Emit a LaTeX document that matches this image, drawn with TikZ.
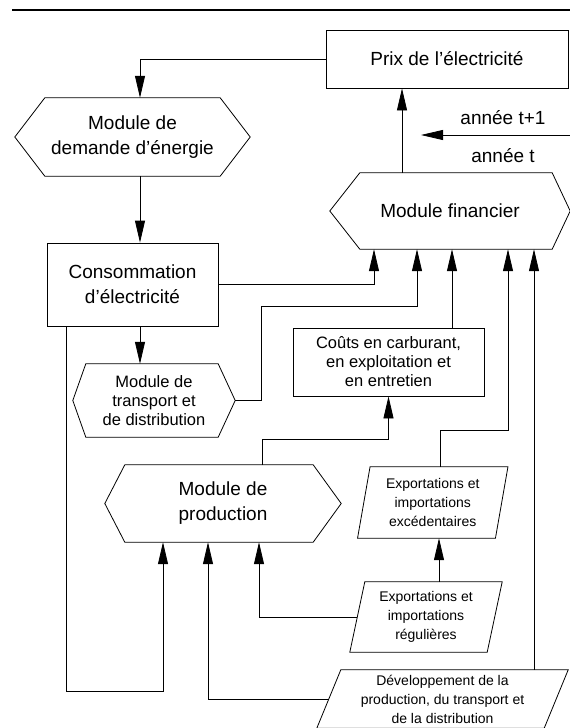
\documentclass[tikz,border=0pt]{standalone}
\usepackage{fontspec}
\setmainfont{Liberation Sans}
\usetikzlibrary{
    positioning,   % Relative positioning
    arrows.meta,   % Modern arrow tips
    calc           % Coordinate calculations
}

\newcommand{\bigtxt}{\fontsize{19}{25}\selectfont}
\newcommand{\midtxt}{\fontsize{16.5}{19}\selectfont}
\newcommand{\smalltxt}{\fontsize{14}{19}\selectfont}

% hexagon outline round a named node: #2 left inset, #3 right inset
\newcommand{\hexout}[3]{\draw[line width=0.8pt] (#1.west) -- ([xshift=#2]#1.north west) -- ([xshift=-#3]#1.north east) -- (#1.east) -- ([xshift=-#3]#1.south east) -- ([xshift=#2]#1.south west) -- cycle;}
% parallelogram outline round a named node: #2 half slant
\newcommand{\paraout}[2]{\draw[line width=0.8pt] ([xshift=#2]#1.north west) -- ([xshift=#2]#1.north east) -- ([xshift=-#2]#1.south east) -- ([xshift=-#2]#1.south west) -- cycle;}

\tikzset{
    box/.style={draw, line width=0.8pt, inner sep=0pt, align=center},
    shapebox/.style={inner sep=0pt, align=center},
    flow/.style={line width=0.8pt, -{Triangle[length=22pt,width=10pt]}}
}

\begin{document}
\begin{tikzpicture}[x=1pt,y=-1pt]
    \useasboundingbox (0,0) rectangle (570,728);
    \draw[line width=1.5pt] (12,10) -- (570,10);

    \node[box, minimum width=242, minimum height=58, font=\bigtxt] (prix) at (447,59) {Prix de l'électricité};
    \node[shapebox, minimum width=235, minimum height=78, font=\bigtxt] (demande) at (132.5,137) {Module de\\demande d'énergie};
    \node[box, minimum width=171, minimum height=83, font=\bigtxt] (conso) at (132.5,284.5) {Consommation\\d'électricité};
    \node[shapebox, minimum width=240, minimum height=76, font=\bigtxt] (financier) at (450,211) {Module financier};
    \node[shapebox, minimum width=162, minimum height=73, font=\midtxt] (transport) at (154,400.5) {Module de\\transport et\\de distribution};
    \node[box, minimum width=191, minimum height=68, font=\midtxt] (couts) at (388.5,362) {Coûts en carburant,\\en exploitation et\\en entretien};
    \node[shapebox, minimum width=236, minimum height=77, font=\bigtxt] (production) at (223,503.5) {Module de\\production};
    \node[shapebox, minimum width=137.5, minimum height=71, font=\smalltxt] (excedent) at (432.75,502.5) {Exportations et\\importations\\excédentaires};
    \node[shapebox, minimum width=137, minimum height=70, font=\smalltxt] (regul) at (426,617) {Exportations et\\importations\\régulières};
    \node[shapebox, minimum width=227, minimum height=58, font=\smalltxt] (devel) at (442.5,699) {Développement de la\\production, du transport et\\de la distribution};
    \node[font=\bigtxt] (tplus) at (503,118) {année t+1};
    \node[font=\bigtxt] (tzero) at (503,156) {année t};
    \coordinate (anneeA) at (570,135);
    \coordinate (anneeB) at (421,135);

    \hexout{demande}{30}{30}
    \hexout{financier}{30}{18}
    \hexout{transport}{13}{17}
    \hexout{production}{20}{28}
    \paraout{excedent}{6.25}
    \paraout{regul}{7.5}
    \paraout{devel}{12}

    \draw[flow] (prix.west) -| ([xshift=7.5]demande.north);
    \draw[flow] ([xshift=7.5]demande.south) -- ([xshift=7.5]conso.north);
    \draw[flow] ([xshift=-48]financier.north) -- ([xshift=-48]financier.north |- prix.south);
    \draw[flow] (anneeA) -- (anneeB);
    \draw[flow] (conso.east) -| ([xshift=-76]financier.south);
    \draw[flow] (transport.east) -| (261,306) -| ([xshift=-33]financier.south);
    \draw[flow] ([xshift=63.5]couts.north) -- ([xshift=2]financier.south);
    \draw[flow] ([xshift=7.25]excedent.north) -- ++(0,-36) -| ([xshift=58]financier.south);
    \draw[flow] ([xshift=91.5]devel.north) -- ([xshift=84]financier.south);
    \draw[flow] ([xshift=7.5]conso.south) -- ([xshift=-14]transport.north);
    \draw[flow] ([xshift=39]production.north) -- ++(0,-25) -| (couts.south);
    \draw[flow] ([xshift=13]regul.north) -- ([xshift=6.25]excedent.south);
    \draw[flow] (regul.west) -| ([xshift=36]production.south);
    \draw[flow] (devel.west) -| ([xshift=-15]production.south);
    \draw[flow] ([xshift=-66.5]conso.south) -- ++(0,365) -| ([xshift=-60]production.south);
\end{tikzpicture}
\end{document}
